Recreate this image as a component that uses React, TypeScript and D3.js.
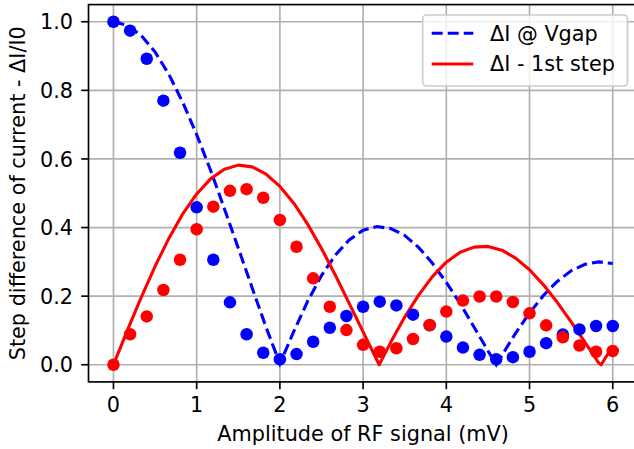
import React from "react";
import { scaleLinear, line } from "d3";

// sample points (markers)
const dotX = [0, 0.2, 0.4, 0.6, 0.8, 1.0, 1.2, 1.4, 1.6, 1.8, 2.0, 2.2, 2.4, 2.6, 2.8, 3.0, 3.2, 3.4, 3.6, 3.8, 4.0, 4.2, 4.4, 4.6, 4.8, 5.0, 5.2, 5.4, 5.6, 5.8, 6.0];
const blueDots = [1.0, 0.974, 0.892, 0.77, 0.618, 0.459, 0.306, 0.182, 0.089, 0.035, 0.016, 0.031, 0.067, 0.108, 0.142, 0.169, 0.184, 0.173, 0.146, 0.115, 0.082, 0.05, 0.029, 0.016, 0.022, 0.038, 0.063, 0.088, 0.103, 0.113, 0.113];
const redDots = [0.0, 0.089, 0.141, 0.218, 0.306, 0.395, 0.461, 0.507, 0.512, 0.487, 0.422, 0.344, 0.252, 0.169, 0.101, 0.058, 0.038, 0.048, 0.075, 0.116, 0.155, 0.187, 0.199, 0.199, 0.183, 0.15, 0.115, 0.08, 0.056, 0.038, 0.04];

// dashed curve: dI @ Vgap
const vgapX = [0, 0.167, 0.333, 0.5, 0.667, 0.833, 1, 1.167, 1.333, 1.5, 1.667, 1.833, 2, 2.167, 2.333, 2.5, 2.667, 2.833, 3, 3.167, 3.333, 3.5, 3.667, 3.833, 4, 4.167, 4.333, 4.5, 4.6, 4.667, 4.833, 5, 5.167, 5.333, 5.5, 5.667, 5.833, 6];
const vgapY = [1.0, 0.99, 0.96, 0.912, 0.846, 0.765, 0.671, 0.567, 0.455, 0.34, 0.224, 0.11, 0.003, 0.097, 0.185, 0.26, 0.32, 0.364, 0.392, 0.403, 0.397, 0.377, 0.342, 0.296, 0.24, 0.178, 0.11, 0.041, 0.0, 0.027, 0.092, 0.151, 0.202, 0.243, 0.274, 0.293, 0.3, 0.295];

// solid curve: dI - 1st step
const stepX = [0, 0.167, 0.333, 0.5, 0.667, 0.833, 1, 1.167, 1.333, 1.5, 1.667, 1.833, 2, 2.167, 2.333, 2.5, 2.667, 2.833, 3, 3.167, 3.193, 3.333, 3.5, 3.667, 3.833, 4, 4.167, 4.333, 4.5, 4.667, 4.833, 5, 5.167, 5.333, 5.5, 5.667, 5.833, 5.86, 6];
const stepY = [0.0, 0.1, 0.196, 0.287, 0.369, 0.44, 0.498, 0.542, 0.57, 0.582, 0.577, 0.556, 0.52, 0.471, 0.41, 0.339, 0.261, 0.179, 0.096, 0.013, 0.0, 0.066, 0.139, 0.203, 0.257, 0.299, 0.328, 0.343, 0.345, 0.334, 0.311, 0.277, 0.233, 0.182, 0.125, 0.065, 0.005, 0.0, 0.054];

const xTicks = [0, 1, 2, 3, 4, 5, 6];
const yTicks = [0, 0.2, 0.4, 0.6, 0.8, 1.0];
const legendLabels = ["\u0394I @ Vgap", "\u0394I - 1st step"];

const width = 634;
const height = 449;
const font = "DejaVu Sans, sans-serif";
const fs = 20.8;

const margin = { top: 4.6, left: 88.5, right: 637.7, bottom: 381.9 };

const App = () => {
  const x = scaleLinear().domain([-0.3, 6.3]).range([margin.left, margin.right]);
  const y = scaleLinear().domain([-0.05, 1.05]).range([margin.bottom, margin.top]);

  const path = line<[number, number]>()
    .x((d) => x(d[0]))
    .y((d) => y(d[1]));

  const vgapPts = vgapX.map((v, i) => [v, vgapY[i]] as [number, number]);
  const stepPts = stepX.map((v, i) => [v, stepY[i]] as [number, number]);

  const tickLen = 7.3;
  const sw = 1.67;

  return (
    <svg
      width={width}
      height={height}
      style={{ position: "absolute", left: 0, top: 0, background: "#fff" }}
      fontFamily={font}
    >
      <defs>
        <clipPath id="plot">
          <rect x={margin.left} y={margin.top} width={margin.right - margin.left} height={margin.bottom - margin.top} />
        </clipPath>
      </defs>

      {/* grid */}
      {xTicks.map((t) => (
        <line key={"gx" + t} x1={x(t)} x2={x(t)} y1={margin.top} y2={margin.bottom} stroke="#b0b0b0" strokeWidth={sw} />
      ))}
      {yTicks.map((t) => (
        <line key={"gy" + t} x1={margin.left} x2={margin.right} y1={y(t)} y2={y(t)} stroke="#b0b0b0" strokeWidth={sw} />
      ))}

      <g clipPath="url(#plot)">
        <path d={path(vgapPts) || ""} fill="none" stroke="#0000ff" strokeWidth={3.1} strokeDasharray="11,5" />
        <path d={path(stepPts) || ""} fill="none" stroke="#ff0000" strokeWidth={3.1} strokeLinejoin="round" />
        {dotX.map((v, i) => (
          <circle key={"b" + i} cx={x(v)} cy={y(blueDots[i])} r={6.25} fill="#0000ff" />
        ))}
        {dotX.map((v, i) => (
          <circle key={"r" + i} cx={x(v)} cy={y(redDots[i])} r={6.25} fill="#ff0000" />
        ))}
      </g>

      {/* spines */}
      <rect
        x={margin.left}
        y={margin.top}
        width={margin.right - margin.left}
        height={margin.bottom - margin.top}
        fill="none"
        stroke="#000"
        strokeWidth={sw}
      />

      {/* x ticks */}
      {xTicks.map((t) => (
        <g key={"xt" + t}>
          <line x1={x(t)} x2={x(t)} y1={margin.bottom} y2={margin.bottom + tickLen} stroke="#000" strokeWidth={sw} />
          <text x={x(t)} y={411.5} fontSize={fs} textAnchor="middle" fill="#000">
            {t}
          </text>
        </g>
      ))}
      {/* y ticks */}
      {yTicks.map((t) => (
        <g key={"yt" + t}>
          <line x1={margin.left - tickLen} x2={margin.left} y1={y(t)} y2={y(t)} stroke="#000" strokeWidth={sw} />
          <text x={73} y={y(t) + 7.6} fontSize={fs} textAnchor="end" fill="#000">
            {t.toFixed(1)}
          </text>
        </g>
      ))}

      {/* axis labels */}
      <text x={(margin.left + margin.right) / 2} y={441} fontSize={fs} textAnchor="middle" fill="#000">
        Amplitude of RF signal (mV)
      </text>
      <text
        transform={`translate(25,${(margin.top + margin.bottom) / 2}) rotate(-90)`}
        fontSize={fs}
        textAnchor="middle"
        fill="#000"
      >
        Step difference of current - {"\u0394"}I/I0
      </text>

      {/* legend */}
      <g>
        <rect x={422.7} y={15} width={204.8} height={71} rx={4} fill="#fff" fillOpacity={0.8} stroke="#cccccc" strokeWidth={sw} />
        <line x1={431.7} x2={473.3} y1={33.3} y2={33.3} stroke="#0000ff" strokeWidth={3.1} strokeDasharray="11,5" />
        <text x={490} y={40.7} fontSize={fs} fill="#000">
          {legendLabels[0]}
        </text>
        <line x1={431.7} x2={473.3} y1={64} y2={64} stroke="#ff0000" strokeWidth={3.1} />
        <text x={490} y={71.2} fontSize={fs} fill="#000">
          {legendLabels[1]}
        </text>
      </g>
    </svg>
  );
};

export default App;
